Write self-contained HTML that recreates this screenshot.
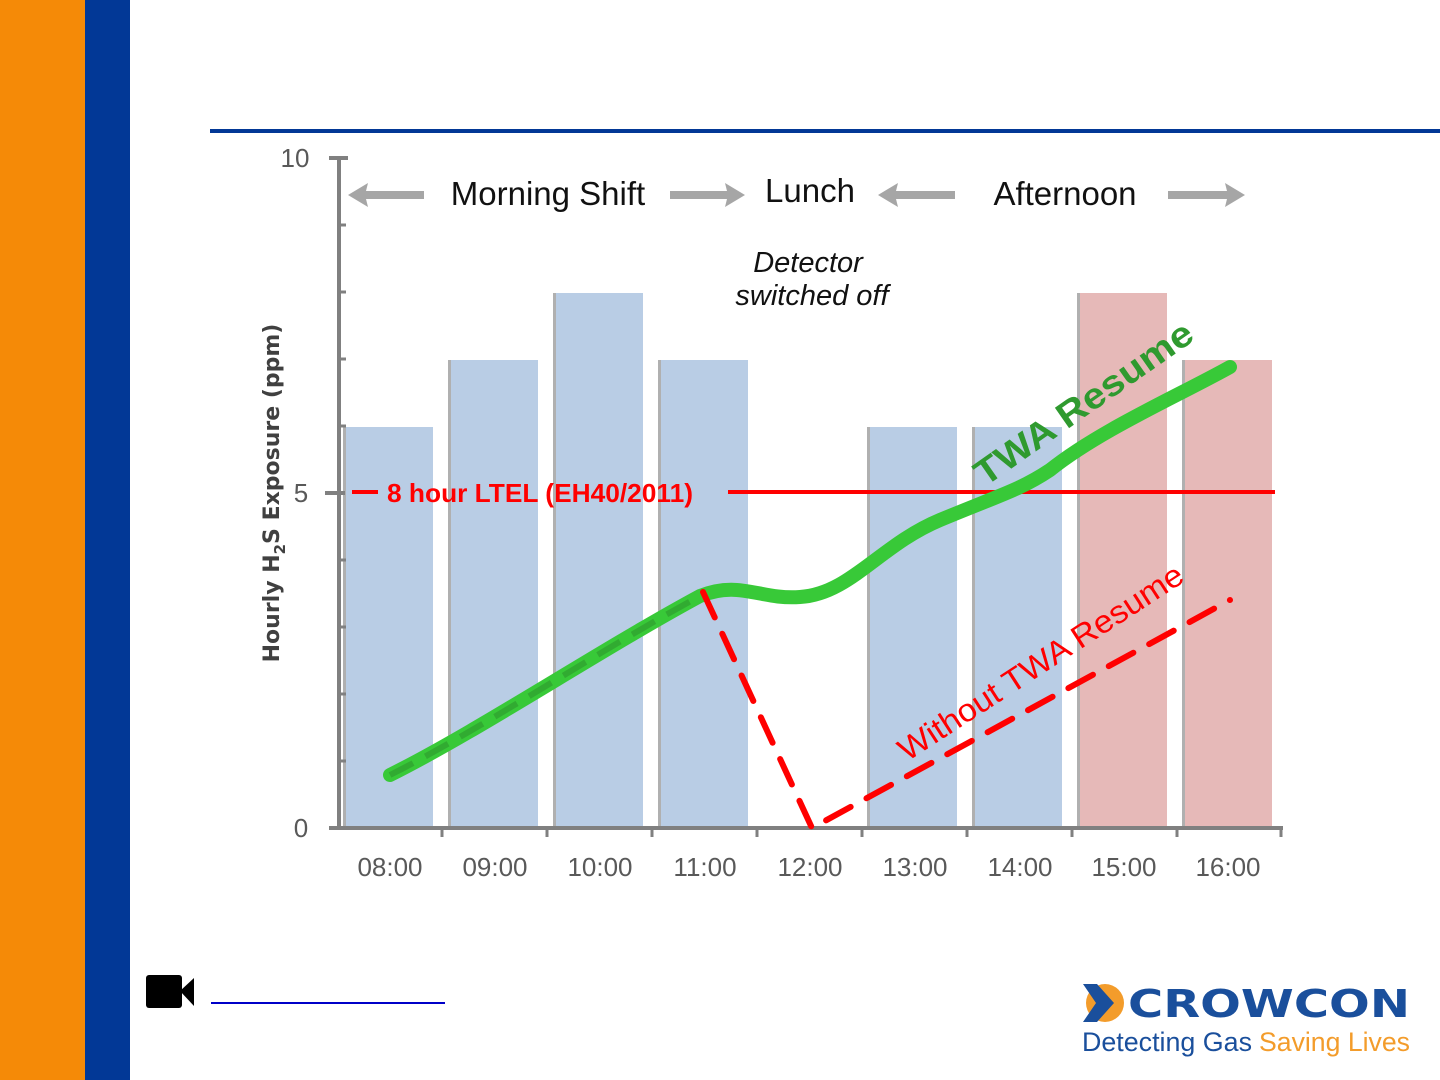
<!DOCTYPE html>
<html><head><style>
html,body{margin:0;padding:0;width:1440px;height:1080px;overflow:hidden;background:#fff;}
</style></head><body>
<svg width="1440" height="1080" xmlns="http://www.w3.org/2000/svg" style="position:absolute;left:0;top:0">
<rect x="0" y="0" width="85" height="1080" fill="#f58a07"/>
<rect x="85" y="0" width="45" height="1080" fill="#023896"/>
<rect x="210" y="129" width="1230" height="4" fill="#023896"/>
<g>
<rect x="343" y="427" width="90" height="401" fill="#b9cde5"/>
<rect x="448" y="360" width="90" height="468" fill="#b9cde5"/>
<rect x="553" y="293" width="90" height="535" fill="#b9cde5"/>
<rect x="658" y="360" width="90" height="468" fill="#b9cde5"/>
<rect x="867" y="427" width="90" height="401" fill="#b9cde5"/>
<rect x="972" y="427" width="90" height="401" fill="#b9cde5"/>
<rect x="1077" y="293" width="90" height="535" fill="#e6b9b8"/>
<rect x="1182" y="360" width="90" height="468" fill="#e6b9b8"/>
</g>
<g fill="#b0b0b0">
<rect x="343" y="427" width="3" height="401"/><rect x="448" y="360" width="3" height="468"/><rect x="553" y="293" width="3" height="535"/><rect x="658" y="360" width="3" height="468"/><rect x="867" y="427" width="3" height="401"/><rect x="972" y="427" width="3" height="401"/><rect x="1077" y="293" width="3" height="535"/><rect x="1182" y="360" width="3" height="468"/>
</g>
<g stroke="#808080" stroke-width="4">
<line x1="339" y1="157" x2="339" y2="830"/>
<line x1="337" y1="828" x2="1283" y2="828"/>
<line x1="329" y1="158" x2="348" y2="158"/>
<line x1="325" y1="493" x2="345" y2="493"/>
<line x1="329" y1="828" x2="345" y2="828"/>
</g>
<g stroke="#808080" stroke-width="3">
<line x1="339" y1="225" x2="346" y2="225"/><line x1="339" y1="292" x2="346" y2="292"/><line x1="339" y1="359" x2="346" y2="359"/><line x1="339" y1="426" x2="346" y2="426"/><line x1="339" y1="560" x2="346" y2="560"/><line x1="339" y1="627" x2="346" y2="627"/><line x1="339" y1="694" x2="346" y2="694"/><line x1="339" y1="761" x2="346" y2="761"/>
<line x1="442" y1="828" x2="442" y2="837"/><line x1="547" y1="828" x2="547" y2="837"/><line x1="652" y1="828" x2="652" y2="837"/><line x1="757" y1="828" x2="757" y2="837"/><line x1="862" y1="828" x2="862" y2="837"/><line x1="967" y1="828" x2="967" y2="837"/><line x1="1072" y1="828" x2="1072" y2="837"/><line x1="1177" y1="828" x2="1177" y2="837"/><line x1="1281" y1="828" x2="1281" y2="837"/>
</g>
<g font-family="Liberation Sans, sans-serif" font-size="26" fill="#595959" text-anchor="middle">
<text x="295" y="167">10</text><text x="301" y="502">5</text><text x="301" y="837">0</text>
<text x="390" y="876">08:00</text><text x="495" y="876">09:00</text><text x="600" y="876">10:00</text><text x="705" y="876">11:00</text><text x="810" y="876">12:00</text><text x="915" y="876">13:00</text><text x="1020" y="876">14:00</text><text x="1124" y="876">15:00</text><text x="1228" y="876">16:00</text>
</g>
<text transform="translate(279,493) rotate(-90)" font-family="DejaVu Sans, sans-serif" font-size="22" font-weight="bold" fill="#404040" text-anchor="middle">Hourly H<tspan font-size="15" dy="6">2</tspan><tspan dy="-6">S Exposure (ppm)</tspan></text>
<line x1="352" y1="492" x2="378" y2="492" stroke="#f00" stroke-width="4"/>
<line x1="728" y1="492" x2="1275" y2="492" stroke="#f00" stroke-width="4"/>
<text x="387" y="502" font-family="Liberation Sans, sans-serif" font-size="26" font-weight="bold" fill="#f00" textLength="306" lengthAdjust="spacingAndGlyphs">8 hour LTEL (EH40/2011)</text>
<g fill="#a6a6a6">
<polygon points="348,195 368,183 366,191 424,191 424,199 366,199 368,207"/>
<polygon points="745,195 725,183 727,191 670,191 670,199 727,199 725,207"/>
<polygon points="878,195 898,183 896,191 955,191 955,199 896,199 898,207"/>
<polygon points="1245,195 1225,183 1227,191 1168,191 1168,199 1227,199 1225,207"/>
</g>
<g font-family="Liberation Sans, sans-serif" font-size="33" fill="#111" text-anchor="middle">
<text x="548" y="205">Morning Shift</text><text x="810" y="202">Lunch</text><text x="1065" y="205">Afternoon</text>
</g>
<g font-family="Liberation Sans, sans-serif" font-size="29" font-style="italic" fill="#111" text-anchor="middle">
<text x="808" y="272">Detector</text><text x="812" y="305">switched off</text>
</g>
<path d="M390,775 C480,730 600,650 700,596 C740,580 760,600 800,597 C850,594 880,545 940,520 C1000,495 1020,490 1050,470 C1100,430 1180,395 1230,367" fill="none" stroke="#38c938" stroke-width="14" stroke-linecap="round"/>
<path d="M390,775 C480,730 600,650 700,596" fill="none" stroke="#2f9e2f" stroke-width="6" stroke-dasharray="26,14" opacity="0.7"/>
<path d="M703,592 L812,828 L1230,600" fill="none" stroke="#f00" stroke-width="6" stroke-dasharray="28,18" stroke-linecap="round"/>
<text transform="translate(985,487) rotate(-35)" font-family="Liberation Sans, sans-serif" font-size="36" font-weight="bold" fill="#2f9a2f" textLength="258" lengthAdjust="spacingAndGlyphs">TWA Resume</text>
<text transform="translate(907,762) rotate(-33)" font-family="Liberation Sans, sans-serif" font-size="32" fill="#f00" textLength="333" lengthAdjust="spacingAndGlyphs">Without TWA Resume</text>
<rect x="146" y="975" width="36" height="33" rx="3" fill="#000"/>
<polygon points="180,991 194,978 194,1006" fill="#000"/>
<rect x="211" y="1002" width="234" height="2" fill="#0000c8"/>
<circle cx="1105" cy="1003" r="19" fill="#f39c2b"/>
<polygon points="1083,984 1097,984 1114,1003 1097,1022 1083,1022 1096,1003" fill="#1a4f9c"/>
<text x="1128" y="1017" font-family="DejaVu Sans, sans-serif" font-size="38" font-weight="bold" fill="#1a4f9c" textLength="282" lengthAdjust="spacingAndGlyphs">CROWCON</text>
<text x="1082" y="1051" font-family="Liberation Sans, sans-serif" font-size="27" fill="#1a4f9c" textLength="170" lengthAdjust="spacingAndGlyphs">Detecting Gas</text>
<text x="1259" y="1051" font-family="Liberation Sans, sans-serif" font-size="27" fill="#f39c2b" textLength="151" lengthAdjust="spacingAndGlyphs">Saving Lives</text>
</svg>
</body></html>
